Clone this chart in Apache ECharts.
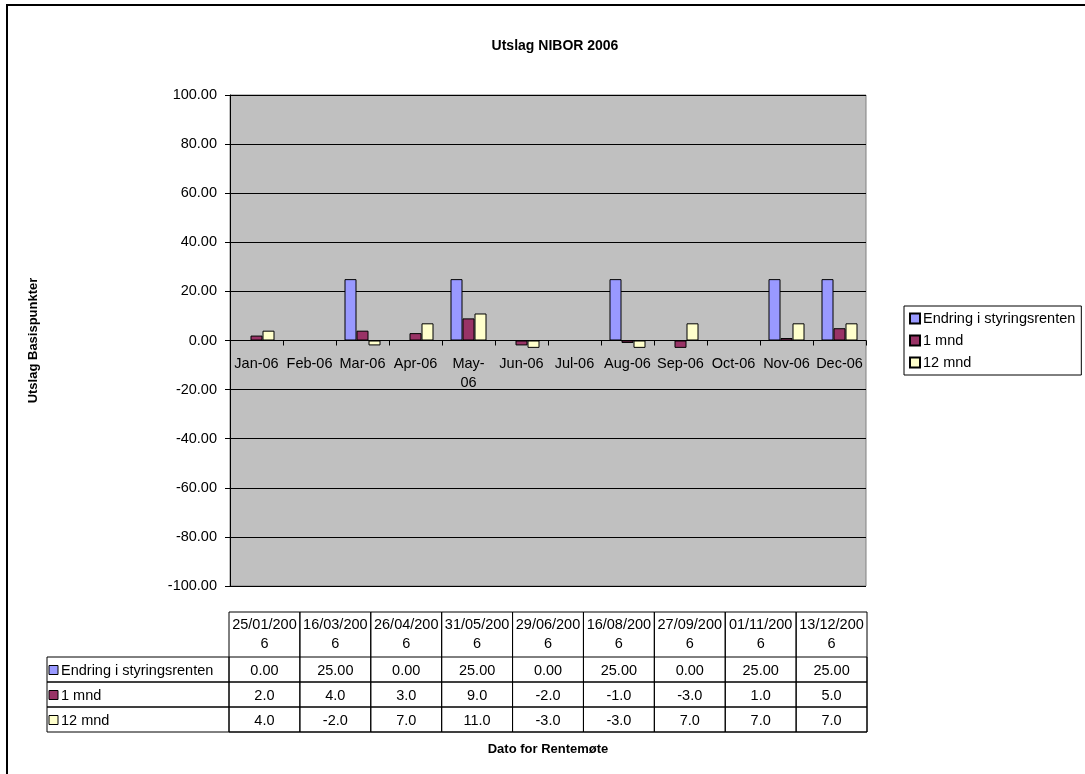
<!DOCTYPE html>
<html>
<head>
<meta charset="utf-8">
<script src="https://cdn.jsdelivr.net/npm/echarts@6/dist/echarts.min.js"></script>
<style>
    html, body { margin: 0; padding: 0; background: #fff; }
</style>
</head>
<body>

<div id="main" style="width: 1085px;height:774px;"></div>

<script type="text/javascript">
    // data
    var months = ['Jan-06', 'Feb-06', 'Mar-06', 'Apr-06', 'May-06', 'Jun-06',
                  'Jul-06', 'Aug-06', 'Sep-06', 'Oct-06', 'Nov-06', 'Dec-06'];
    var meetingDates = ['25/01/2006', '16/03/2006', '26/04/2006', '31/05/2006', '29/06/2006',
                        '16/08/2006', '27/09/2006', '01/11/2006', '13/12/2006'];
    var endring = [0, 25, 0, 25, 0, 25, 0, 25, 25];
    var mnd1 = [2, 4, 3, 9, -2, -1, -3, 1, 5];
    var mnd12 = [4, -2, 7, 11, -3, -3, 7, 7, 7];
    var yTicks = [-100, -80, -60, -40, -20, 0, 20, 40, 60, 80, 100];

    var seriesNames = ['Endring i styringsrenten', '1 mnd', '12 mnd'];
    var colors = ['#9999ff', '#993366', '#ffffcc'];
    var FONT = '"Liberation Sans", Arial, sans-serif';
    var FS = 14.5;

    // legg møtene inn på riktig måned, tomme måneder blir null
    function byMonth(values) {
        var out = months.map(function () { return null; });
        meetingDates.forEach(function (d, i) {
            out[parseInt(d.slice(3, 5), 10) - 1] = values[i];
        });
        return out;
    }
    var tableRows = [
        { name: seriesNames[0], values: endring, decimals: 2 },
        { name: seriesNames[1], values: mnd1, decimals: 1 },
        { name: seriesNames[2], values: mnd12, decimals: 1 }
    ];

    // plot geometry
    var plotLeft = 230, plotTop = 95, plotWidth = 636, plotHeight = 491;
    var yMin = yTicks[0], yMax = yTicks[yTicks.length - 1];
    // kategoriaksen skal ligge på 0-linja, med etikettene rett under
    var xAxisOffset = -plotHeight * (0 - yMin) / (yMax - yMin);

    // tabell under diagrammet
    var tblLeft = 229, tblRight = 867, labelLeft = 47;
    var headTop = 612, headBottom = 657, rowH = 25;
    var colW = (tblRight - tblLeft) / meetingDates.length;
    var graphics = [];

    meetingDates.forEach(function (d, i) {
        var x = tblLeft + i * colW;
        graphics.push({
            type: 'rect',
            shape: { x: x, y: headTop, width: colW, height: headBottom - headTop + rowH * 3 },
            style: { fill: 'transparent', stroke: '#000', lineWidth: 1 }
        });
        graphics.push({
            type: 'text', x: x + colW / 2, y: (headTop + headBottom) / 2,
            style: { text: d.slice(0, 9) + '\n' + d.slice(9), font: FS + 'px ' + FONT, fill: '#000',
                     align: 'center', verticalAlign: 'middle', lineHeight: 19 }
        });
    });

    tableRows.forEach(function (row, r) {
        var y = headBottom + r * rowH;
        graphics.push({
            type: 'rect',
            shape: { x: labelLeft, y: y, width: tblRight - labelLeft, height: rowH },
            style: { fill: 'transparent', stroke: '#000', lineWidth: 1 }
        });
        graphics.push({
            type: 'rect',
            shape: { x: labelLeft + 2, y: y + rowH / 2 - 4, width: 9, height: 9 },
            style: { fill: colors[r], stroke: '#000', lineWidth: 1 }
        });
        graphics.push({
            type: 'text', x: labelLeft + 14, y: y + rowH / 2 + 1,
            style: { text: row.name, font: FS + 'px ' + FONT, fill: '#000', align: 'left', verticalAlign: 'middle' }
        });
        row.values.forEach(function (v, i) {
            graphics.push({
                type: 'text', x: tblLeft + i * colW + colW / 2, y: y + rowH / 2 + 1,
                style: { text: v.toFixed(row.decimals), font: FS + 'px ' + FONT, fill: '#000',
                         align: 'center', verticalAlign: 'middle' }
            });
        });
    });
    // skillelinje mellom etiketter og data
    graphics.push({
        type: 'line',
        shape: { x1: tblLeft, y1: headBottom, x2: tblLeft, y2: headBottom + rowH * 3 },
        style: { stroke: '#000', lineWidth: 1 }
    });

    graphics.push({
        type: 'text', x: 548, y: 749,
        style: { text: 'Dato for Rentemøte', font: 'bold 13px ' + FONT, fill: '#000',
                 align: 'center', verticalAlign: 'middle' }
    });
    // ramme rundt hele diagrammet (går ut av bildet til høyre og nede)
    graphics.push({
        type: 'rect',
        shape: { x: 7, y: 5, width: 1200, height: 900 },
        style: { fill: 'transparent', stroke: '#000', lineWidth: 2 }
    });

    var myChart = echarts.init(document.getElementById('main'));

    var option = {
        backgroundColor: '#fff',
        animation: false,
        title: {
            text: 'Utslag NIBOR 2006',
            left: 550,
            top: 34,
            textAlign: 'center',
            textStyle: { fontFamily: FONT, fontSize: 14, fontWeight: 'bold', color: '#000' }
        },
        legend: {
            data: seriesNames,
            orient: 'vertical',
            left: 904,
            top: 306,
            padding: [5, 6, 5, 5],
            itemGap: 7,
            itemWidth: 10,
            itemHeight: 10,
            icon: 'rect',
            borderColor: '#000',
            borderWidth: 1,
            textStyle: { fontFamily: FONT, fontSize: FS, color: '#000', padding: [0, 0, 0, -2] }
        },
        grid: {
            left: plotLeft,
            top: plotTop,
            width: plotWidth,
            height: plotHeight,
            show: true,
            backgroundColor: '#c0c0c0',
            borderColor: '#808080',
            borderWidth: 1
        },
        xAxis: {
            type: 'category',
            data: months,
            position: 'bottom',
            offset: xAxisOffset,
            axisLine: { onZero: false, lineStyle: { color: '#000', width: 1 } },
            axisTick: { show: true, length: 5, lineStyle: { color: '#000' } },
            axisLabel: {
                interval: 0,
                margin: 14,
                fontFamily: FONT,
                fontSize: FS,
                color: '#000',
                lineHeight: 19,
                // Excel bryter "May-06" over to linjer
                formatter: function (v) { return v === 'May-06' ? 'May-\n06' : v; }
            }
        },
        yAxis: {
            type: 'value',
            min: yMin,
            max: yMax,
            interval: 20,
            name: 'Utslag Basispunkter',
            nameLocation: 'middle',
            nameGap: 190,
            nameTextStyle: { fontFamily: FONT, fontSize: 13, fontWeight: 'bold', color: '#000' },
            axisLine: { show: true, lineStyle: { color: '#000' } },
            axisTick: { show: true, length: 5, lineStyle: { color: '#000' } },
            axisLabel: {
                margin: 13,
                fontFamily: FONT,
                fontSize: FS,
                color: '#000',
                formatter: function (v) { return v.toFixed(2); }
            },
            splitLine: { show: true, lineStyle: { color: '#000', width: 1 } }
        },
        series: tableRows.map(function (row, i) {
            return {
                name: row.name,
                type: 'bar',
                data: byMonth(row.values),
                barWidth: 12,
                barGap: '0%',
                itemStyle: { color: colors[i], borderColor: '#000', borderWidth: 1 }
            };
        }),
        graphic: graphics
    };

    myChart.setOption(option);
</script>

</body>
</html>
